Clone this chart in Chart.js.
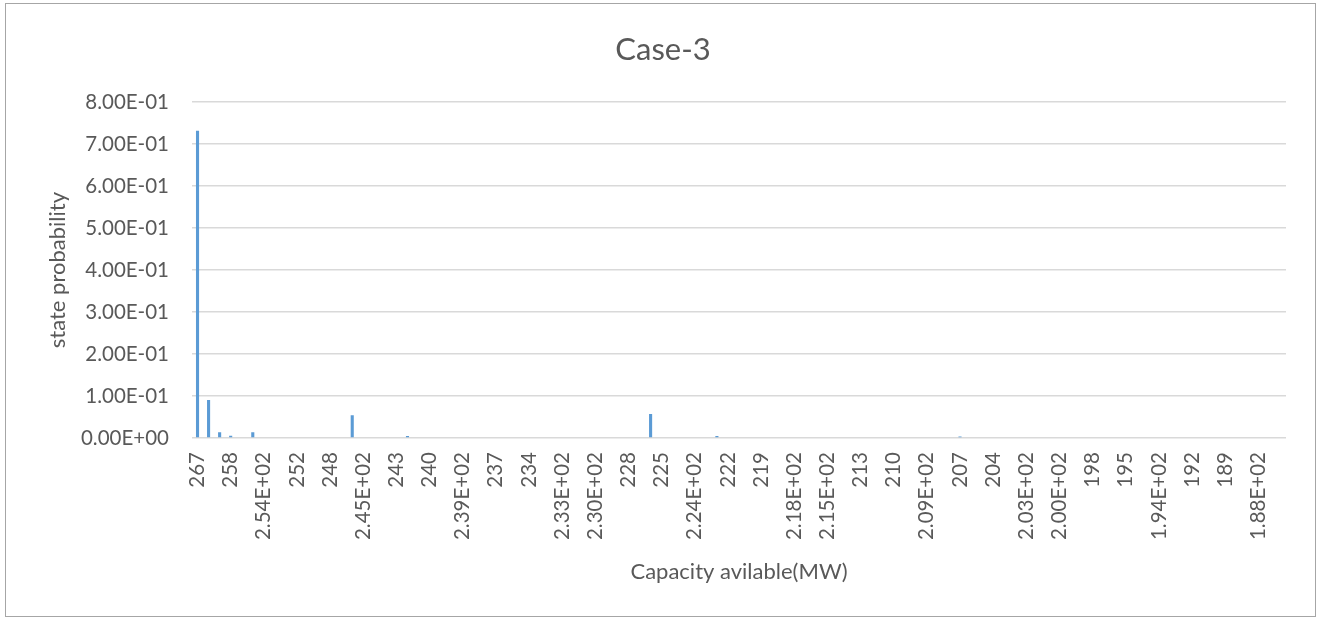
<!DOCTYPE html>
<html>
<head>
<meta charset="utf-8">
<script src="https://cdn.jsdelivr.net/npm/chart.js@4/dist/chart.umd.min.js"></script>
<style>
  html, body { margin: 0; padding: 0; background: #ffffff; }
  #wrap { position: relative; width: 1322px; height: 619px; overflow: hidden; }
  #frame { position: absolute; left: 5px; top: 3px; width: 1309px; height: 612px; border: 1px solid #a6a6a6; }
  #c { position: absolute; left: 0; top: 0; }
</style>
</head>
<body>
<div id="wrap">
  <div id="frame"></div>
  <canvas id="c" width="1322" height="619"></canvas>
</div>
<script>
// Available capacity states (MW), one category per state
const capacityLabels = [
  '267', '264', '261', '258', '257', '255', '2.54E+02', '254', '253',
  '252', '250', '249', '248', '247', '246', '2.45E+02', '245', '244',
  '243', '242', '241', '240', '2.40E+02', '239', '2.39E+02', '238', '2.37E+02',
  '237', '236', '235', '234', '2.34E+02', '233', '2.33E+02', '232', '231',
  '2.30E+02', '230', '229', '228', '227', '226', '225', '2.25E+02', '224',
  '2.24E+02', '223', '2.23E+02', '222', '221', '220', '219', '2.19E+02', '218',
  '2.18E+02', '217', '216', '2.15E+02', '215', '214', '213', '212', '211',
  '210', '2.10E+02', '209', '2.09E+02', '208', '2.08E+02', '207', '206', '205',
  '204', '2.04E+02', '203', '2.03E+02', '202', '201', '2.00E+02', '200', '199',
  '198', '197', '196', '195', '1.95E+02', '194', '1.94E+02', '193', '1.93E+02',
  '192', '191', '190', '189', '1.89E+02', '188', '1.88E+02', '187', '186'
];

// Probability of each capacity state
const stateProbability = [
  0.732, 0.0905, 0.0136, 0.0055, 0, 0.0136, 0, 0, 0,
  0, 0, 0, 0, 0, 0.054, 0, 0, 0,
  0, 0.005, 0, 0, 0, 0, 0, 0, 0,
  0, 0, 0, 0, 0, 0, 0, 0, 0,
  0, 0, 0, 0, 0, 0.057, 0, 0, 0,
  0, 0, 0.005, 0, 0, 0, 0, 0, 0,
  0, 0, 0, 0, 0, 0, 0, 0, 0,
  0, 0, 0, 0, 0, 0, 0.0035, 0, 0,
  0, 0, 0, 0, 0, 0, 0, 0, 0,
  0, 0, 0, 0, 0, 0, 0, 0, 0,
  0, 0, 0, 0, 0, 0, 0, 0, 0
];

// Value-axis ticks
const probabilityTicks = [0, 0.1, 0.2, 0.3, 0.4, 0.5, 0.6, 0.7, 0.8];

const textColor = '#595959';
const gridColor = '#d9d9d9';
const fontFamily = 'Lato, "Open Sans", sans-serif';

// Excel-style scientific format, e.g. 8.00E-01
function sci(v) {
  const s = Number(v).toExponential(2).toUpperCase();
  const m = s.match(/^(-?[\d.]+)E([+-])(\d+)$/);
  if (!m) return s;
  const exp = m[3].length < 2 ? '0' + m[3] : m[3];
  return m[1] + 'E' + m[2] + exp;
}

new Chart(document.getElementById('c'), {
  type: 'bar',
  data: {
    labels: capacityLabels,
    datasets: [{
      label: 'state probability',
      data: stateProbability,
      backgroundColor: '#5b9bd5',
      borderWidth: 0,
      barPercentage: 0.28,
      categoryPercentage: 1.0
    }]
  },
  options: {
    responsive: false,
    animation: false,
    events: [],
    layout: { padding: { top: 0, left: 40, right: 36, bottom: 20 } },
    plugins: {
      legend: { display: false },
      tooltip: { enabled: false },
      title: {
        display: true,
        text: 'Case-3',
        color: textColor,
        font: { family: fontFamily, size: 31, weight: 'normal', lineHeight: 1.2 },
        padding: { top: 31, bottom: 34 }
      }
    },
    scales: {
      x: {
        type: 'category',
        grid: { display: false, drawTicks: false },
        border: { display: false },
        ticks: {
          autoSkip: false,
          maxRotation: 90,
          minRotation: 90,
          padding: 14,
          color: textColor,
          font: { family: fontFamily, size: 20.5 },
          callback: function (value, index) {
            return index % 3 === 0 ? capacityLabels[index] : '';
          }
        },
        title: {
          display: true,
          text: 'Capacity avilable(MW)',
          color: textColor,
          font: { family: fontFamily, size: 22, lineHeight: 1.2 },
          padding: { top: 0, bottom: 13.5 }
        },
        afterFit: function (scale) { scale.height = 161; }
      },
      y: {
        min: 0,
        max: 0.8,
        afterBuildTicks: function (scale) {
          scale.ticks = probabilityTicks.map(function (v) { return { value: v }; });
        },
        grid: { color: gridColor, lineWidth: 1.5, drawTicks: false },
        border: { display: false },
        ticks: {
          padding: 23,
          color: textColor,
          font: { family: fontFamily, size: 20.5 },
          callback: function (value) { return sci(value); }
        },
        title: {
          display: true,
          text: 'state probability',
          color: textColor,
          font: { family: fontFamily, size: 22, lineHeight: 1.2 },
          padding: { top: 5, bottom: 0 }
        },
        afterFit: function (scale) { scale.width = 152; }
      }
    }
  }
});
</script>
</body>
</html>
